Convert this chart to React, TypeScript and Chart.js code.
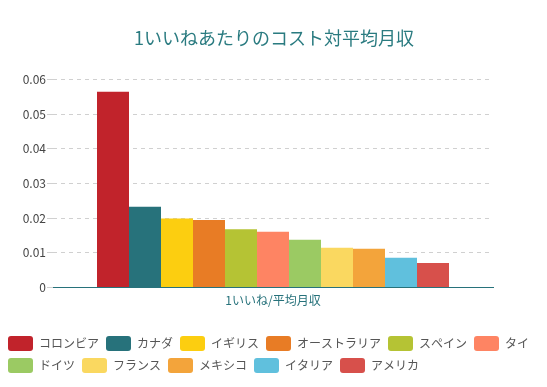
import React, { useEffect, useRef } from "react";
import { Chart, registerables } from "chart.js";

Chart.register(...registerables);

const categories = ["1いいね/平均月収"];
const countries = ["コロンビア", "カナダ", "イギリス", "オーストラリア", "スペイン", "タイ", "ドイツ", "フランス", "メキシコ", "イタリア", "アメリカ"];
const values = [0.0565, 0.0233, 0.0199, 0.0195, 0.0168, 0.0161, 0.0138, 0.0115, 0.0112, 0.0086, 0.0071];
const colors = ["#c1232b", "#27727b", "#fcce10", "#e87c25", "#b5c334", "#fe8463", "#9bca63", "#fad860", "#f3a43b", "#60c0dd", "#d7504b"];
const titleText = "1いいねあたりのコスト対平均月収";

const FONT = "'Noto Sans CJK JP', 'Noto Sans', sans-serif";

export default function App() {
  const ref = useRef<HTMLCanvasElement | null>(null);
  useEffect(() => {
    if (!ref.current) return;
    const chart = new Chart(ref.current, {
      type: "bar",
      data: {
        labels: categories,
        datasets: countries.map((c, i) => ({
          label: c,
          data: [values[i]],
          backgroundColor: colors[i],
          borderWidth: 0,
        })),
      },
      options: {
        animation: false,
        responsive: false,
        maintainAspectRatio: false,
        layout: { padding: { top: 27, right: 0, left: 1, bottom: 4 } },
        datasets: { bar: { barPercentage: 1, categoryPercentage: 0.8 } },
        plugins: {
          title: {
            display: true,
            text: titleText,
            color: "#2a7b80",
            font: { family: FONT, size: 18, weight: "normal" },
            padding: { top: 0, bottom: 31 },
          },
          legend: {
            position: "bottom",
            align: "start",
            labels: {
              boxWidth: 25,
              boxHeight: 15,
              useBorderRadius: true,
              borderRadius: 3,
              color: "#555",
              font: { family: FONT, size: 12 },
              padding: 7,
            },
          },
          tooltip: { enabled: false },
        },
        scales: {
          x: {
            grid: { display: false, drawTicks: false },
            border: { display: true, color: "#27727b", width: 1 },
            ticks: { color: "#27727b", font: { family: FONT, size: 12 }, padding: 6 },
            afterFit: (s: any) => {
              s.height += 15;
            },
          },
          y: {
            min: 0,
            max: 0.06,
            ticks: {
              stepSize: 0.01,
              color: "#444",
              font: { family: FONT, size: 12 },
              padding: 1,
            },
            grid: { color: "#d0d0d0", tickLength: 6, drawTicks: true },
            border: { display: false, dash: [4, 4] },
            afterFit: (s: any) => {
              s.width = 52;
            },
          },
          yPad: {
            position: "right",
            display: true,
            grid: { display: false },
            border: { display: false },
            ticks: { display: false },
            afterFit: (s: any) => {
              s.width = 54;
            },
          },
        },
      },
    });
    return () => chart.destroy();
  }, []);
  return (
    <div style={{ position: "absolute", left: 0, top: 0, width: 547, height: 387 }}>
      <canvas ref={ref} width={547} height={387} style={{ display: "block" }} />
    </div>
  );
}
